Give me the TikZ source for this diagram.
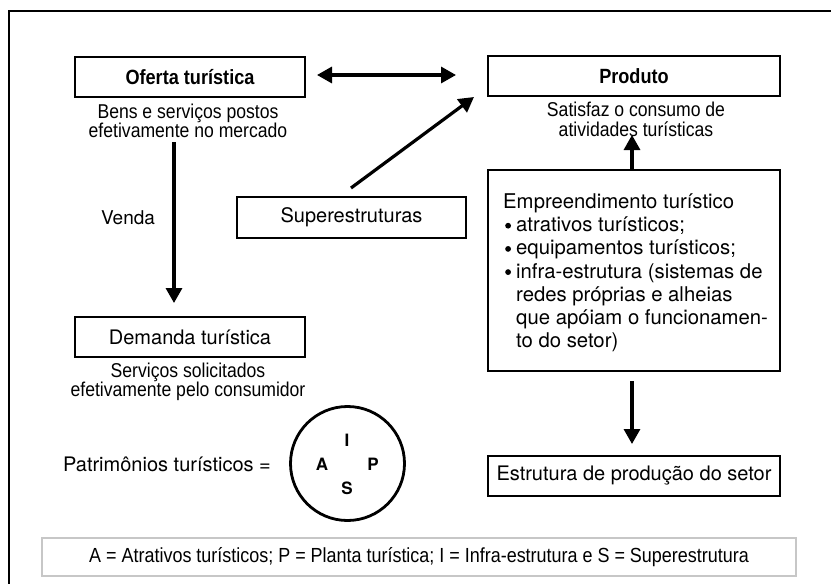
\documentclass[tikz,border=0pt]{standalone}
\usepackage{fontspec}
\setmainfont{TeX Gyre Heros}
\newfontfamily\narrowf[FakeStretch=0.88]{Liberation Sans}
\usetikzlibrary{arrows.meta}
\newcommand{\blt}{\makebox[13pt][l]{\hspace*{2pt}\tikz[baseline=0pt,x=1pt,y=1pt]\fill (0,6) circle (2.9);}}
\begin{document}
\begin{tikzpicture}[x=1pt,y=-1pt,
  box/.style={draw, line width=2.6pt, minimum height=40pt, inner sep=0pt},
  tip/.tip={Triangle[length=15pt,width=16pt]},
  arr/.style={line width=3.2pt, -tip},
  sub/.style={font=\narrowf\fontsize{20}{19.5}\selectfont, align=center, inner sep=0pt},
  ttl/.style={font=\narrowf\bfseries\fontsize{20.6}{19}\selectfont},
  reg/.style={font=\fontsize{20}{22}\selectfont}]
\useasboundingbox (0,0) rectangle (831,584);
% frame
\draw[line width=1.8pt] (831,11) -- (9,11) -- (9,584);
% boxes
\node[box, minimum width=230pt, ttl] (of) at (190,77) {Oferta turística};
\node[box, minimum width=292pt, ttl] (pr) at (634,76) {Produto};
\node[sub] (ofs) at (188,121) {Bens e serviços postos\\efetivamente no mercado};
\node[sub] (prs) at (636,119.5) {Satisfaz o consumo de\\atividades turísticas};
\node[box, minimum width=230pt, reg] (de) at (190,337) {Demanda turística};
\node[sub] (des) at (188,382) {Serviços solicitados\\efetivamente pelo consumidor};
\node[box, minimum width=229pt, minimum height=41pt, reg] (su) at (351.5,217.5) {Superestruturas};
\node[box, minimum width=292pt, minimum height=201pt] (em) at (634,270.5) {};
\node[anchor=north west, align=left, inner sep=0pt, font=\fontsize{20.3}{23.2}\selectfont] (emt) at (503,193.5)
 {Empreendimento turístico\\
  \blt atrativos turísticos;\\
  \blt equipamentos turísticos;\\
  \blt infra-estrutura (sistemas de\\
  \hspace*{13pt}redes próprias e alheias\\
  \hspace*{13pt}que apóiam o funcionamen-\\
  \hspace*{13pt}to do setor)};
\node[box, minimum width=292pt, reg] (es) at (634,476) {Estrutura de produção do setor};
% circle
\node[draw, circle, line width=2.8pt, minimum size=114pt] (cc) at (347.5,463.5) {};
\node[font=\bfseries\fontsize{17}{17}\selectfont] (ci) at (347,440) {I};
\node[font=\bfseries\fontsize{17}{17}\selectfont] (ca) at (322,464) {A};
\node[font=\bfseries\fontsize{17}{17}\selectfont] (cp) at (373,464) {P};
\node[font=\bfseries\fontsize{17}{17}\selectfont] (cs) at (347,488) {S};
\node[reg] (pat) at (167,464) {Patrimônios turísticos =};
\node[font=\fontsize{19}{22}\selectfont] (venda) at (128,218) {Venda};
% legend
\node[draw=black!22, line width=1.2pt, minimum width=754pt, minimum height=38pt, font=\narrowf\fontsize{20.4}{20}\selectfont] (lg) at (419,557) {A = Atrativos turísticos; P = Planta turística; I = Infra-estrutura e S = Superestrutura};
% arrows
\coordinate (da) at (317,75);
\coordinate (db) at (456,75);
\draw[line width=3.2pt, tip-tip] (da) -- (db);
\coordinate (v1) at (174,142);
\coordinate (v2) at (174,303);
\draw[arr] (v1) -- (v2);
\coordinate (s1) at (351,188);
\coordinate (s2) at (474,97);
\draw[arr] (s1) -- (s2);
\coordinate (u2) at (632,135);
\draw[arr] (em.north -| u2) -- (u2);
\coordinate (w1) at (632,381);
\coordinate (w2) at (632,444);
\draw[arr] (w1) -- (w2);
\end{tikzpicture}
\end{document}
